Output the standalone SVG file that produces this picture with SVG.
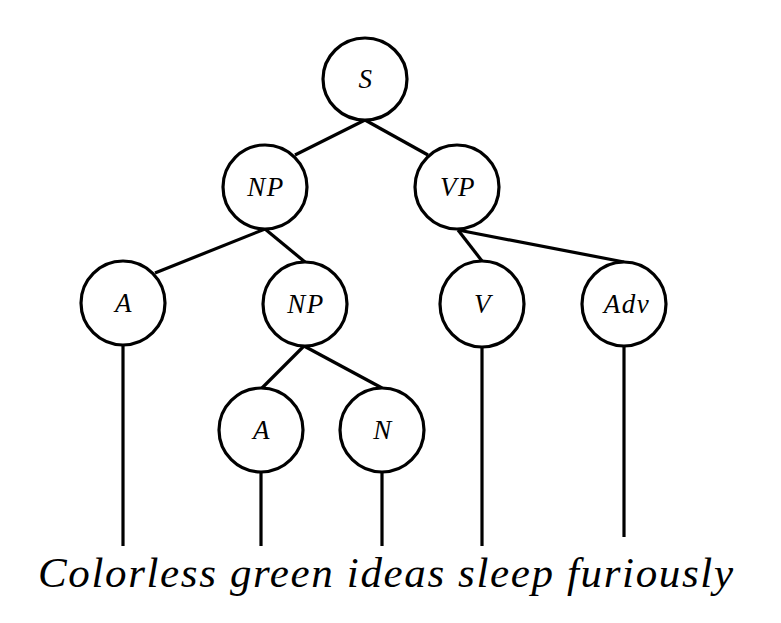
<svg xmlns="http://www.w3.org/2000/svg" width="781" height="623" viewBox="0 0 781 623">
<style>
.node ellipse{fill:#fff;stroke:#000;stroke-width:3.2}
.node text{font-family:"Liberation Serif",serif;font-style:italic;font-size:27px;text-anchor:middle;fill:#000;letter-spacing:1.5px}
#connectors line{stroke:#000;stroke-width:3.2;stroke-linecap:butt}
.words{font-family:"Liberation Serif",serif;font-style:italic;font-size:43px;fill:#000}
</style>
<rect width="781" height="623" fill="#fff"/>
<g id="connectors">
<line x1="365" y1="120" x2="295" y2="155"/>
<line x1="365" y1="120" x2="428" y2="155"/>
<line x1="265" y1="229" x2="155" y2="273"/>
<line x1="265" y1="229" x2="305" y2="262"/>
<line x1="458" y1="230" x2="482" y2="261"/>
<line x1="458" y1="230" x2="624" y2="262"/>
<line x1="304" y1="346" x2="262" y2="388"/>
<line x1="304" y1="346" x2="382" y2="388"/>
<line x1="123" y1="345" x2="123" y2="546"/>
<line x1="261" y1="472" x2="261" y2="546"/>
<line x1="382" y1="472" x2="382" y2="546"/>
<line x1="482" y1="347" x2="482" y2="546"/>
<line x1="624" y1="347" x2="624" y2="537"/>
</g>
<g id="node-S" class="node"><ellipse cx="365" cy="79" rx="42" ry="41"/><text x="366" y="88">S</text></g>
<g id="node-NP1" class="node"><ellipse cx="265" cy="187" rx="42" ry="42"/><text x="266" y="196">NP</text></g>
<g id="node-VP" class="node"><ellipse cx="457" cy="187" rx="42" ry="42"/><text x="458" y="196">VP</text></g>
<g id="node-A1" class="node"><ellipse cx="123" cy="303" rx="42" ry="42"/><text x="124" y="312">A</text></g>
<g id="node-NP2" class="node"><ellipse cx="305" cy="304" rx="42" ry="42"/><text x="306" y="313">NP</text></g>
<g id="node-V" class="node"><ellipse cx="482" cy="304" rx="42" ry="43"/><text x="483" y="313">V</text></g>
<g id="node-Adv" class="node"><ellipse cx="624" cy="304" rx="42" ry="42"/><text x="627" y="313">Adv</text></g>
<g id="node-A2" class="node"><ellipse cx="261" cy="430" rx="42" ry="42"/><text x="262" y="439">A</text></g>
<g id="node-N" class="node"><ellipse cx="382" cy="430" rx="42" ry="42"/><text x="383" y="439">N</text></g>
<text class="words" x="38" y="587" textLength="695" lengthAdjust="spacing">Colorless green ideas sleep furiously</text>
</svg>
